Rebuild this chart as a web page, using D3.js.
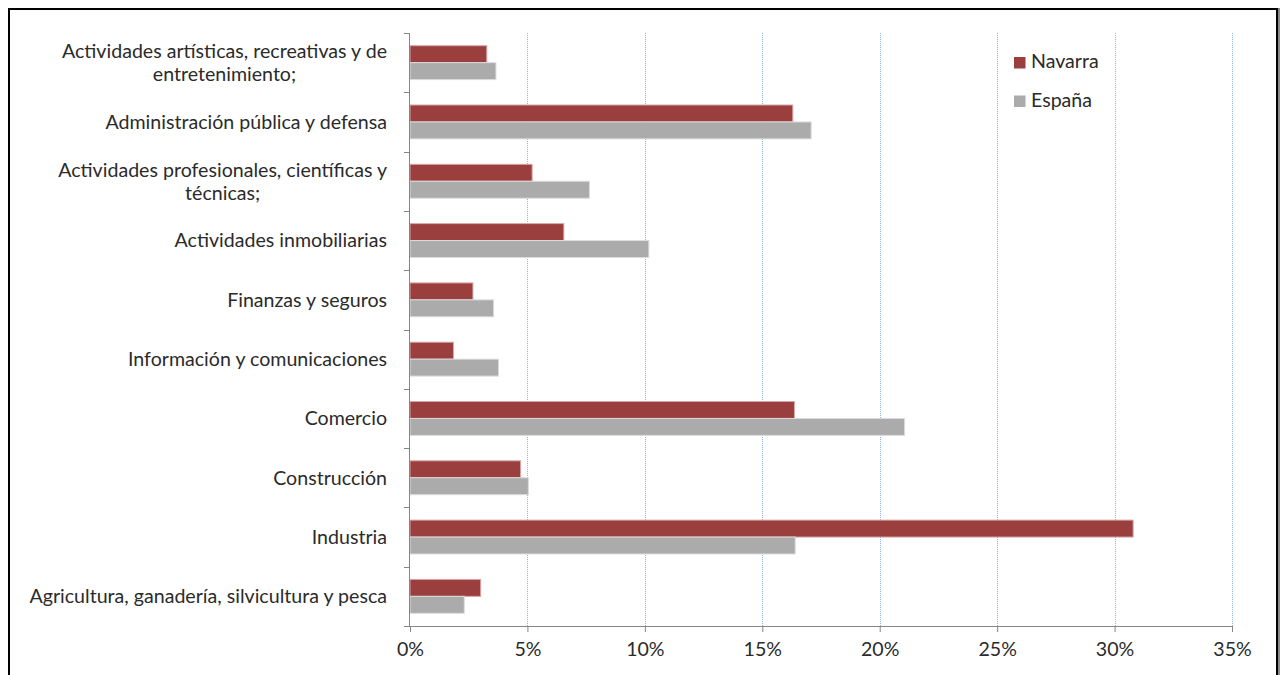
<!DOCTYPE html>
<html>
<head>
<meta charset="utf-8">
<script src="https://cdn.jsdelivr.net/npm/d3@7"></script>
<style>
    body { margin: 0; background: #fff; }
    text { font-family: Lato, 'Open Sans', sans-serif; fill: #2b2b2b; }
</style>
</head>
<body>
<svg id="chart" width="1283" height="675"></svg>
<script>
// Categories listed top to bottom, "\n" = where the label wraps
const categories = [
    'Actividades artísticas, recreativas y de\nentretenimiento;',
    'Administración pública y defensa',
    'Actividades profesionales, científicas y\ntécnicas;',
    'Actividades inmobiliarias',
    'Finanzas y seguros',
    'Información y comunicaciones',
    'Comercio',
    'Construcción',
    'Industria',
    'Agricultura, ganadería, silvicultura y pesca'
];
const navarra = [3.27, 16.3, 5.2, 6.55, 2.68, 1.85, 16.37, 4.71, 30.79, 3.01];
const espana  = [3.66, 17.08, 7.64, 10.17, 3.56, 3.77, 21.06, 5.04, 16.4, 2.31];
const seriesNames = ['Navarra', 'España'];
const xTicks = [0, 5, 10, 15, 20, 25, 30, 35];

class BarChart {

    /**
    * @param {D3 selection} _parent
    */
    constructor(_parent) {
        this.parent = _parent;
        this.width = +this.parent.attr('width');
        this.height = +this.parent.attr('height');
        this.margin = { left: 410, right: 1283 - 1232, top: 33, bottom: 675 - 626 };
        this.colours = ['#9b3e3e', '#ababab'];
        this.fontSize = 19.6;

        this.x = d3.scaleLinear().domain([0, 35]).range([this.margin.left, this.width - this.margin.right]);
        this.y = d3.scaleBand().domain(categories).range([this.margin.top, this.height - this.margin.bottom]);
        // gap width 150% -> two bars + 1.5 bar of gap per band
        this.inner = d3.scaleBand().domain(seriesNames).range([0, this.y.bandwidth()]).paddingOuter(0.75).paddingInner(0);

        this.populate();
    }

    populate() {
        const svg = this.parent;
        const x = this.x, y = this.y;
        const y0 = y.range()[0], y1 = y.range()[1];
        const fs = this.fontSize;

        svg.append('rect').attr('width', this.width).attr('height', this.height).attr('fill', '#fff');

        // dotted vertical gridlines
        svg.append('g').selectAll('line').data(xTicks.filter(d => d > 0)).join('line')
            .attr('x1', d => Math.round(x(d)) + 0.5).attr('x2', d => Math.round(x(d)) + 0.5)
            .attr('y1', y0).attr('y2', y1)
            .attr('stroke', '#8fb0e3').attr('stroke-dasharray', '1,1');

        // bars
        const rows = categories.map((c, i) => ({ cat: c, vals: [navarra[i], espana[i]] }));
        svg.append('g').selectAll('g').data(rows).join('g')
            .attr('transform', d => `translate(0,${y(d.cat)})`)
            .selectAll('rect').data(d => d.vals.map((v, j) => ({ v, s: seriesNames[j], j }))).join('rect')
            .attr('x', x(0))
            .attr('y', d => this.inner(d.s))
            .attr('width', d => x(d.v) - x(0))
            .attr('height', this.inner.bandwidth())
            .attr('fill', d => this.colours[d.j])
            .attr('stroke', d => d.j === 0 ? '#d8a6a6' : '#dcdcdc')
            .attr('stroke-width', 1);

        // x axis
        const xAxis = svg.append('g')
            .attr('transform', `translate(0,${y1})`)
            .call(d3.axisBottom(x).tickValues(xTicks).tickFormat(d => d + '%').tickSizeInner(6).tickSizeOuter(0));
        xAxis.select('.domain').attr('stroke', '#868686').attr('d', `M${x(0) - 6},0.5H${x(35)}`);
        xAxis.selectAll('.tick line').attr('stroke', '#868686');
        xAxis.selectAll('.tick text').attr('font-size', fs).attr('font-family', null).attr('dy', '1.05em');

        // y axis: line and ticks on band edges
        const edges = categories.map(c => y(c)).concat([y1]);
        svg.append('line').attr('x1', x(0) - 0.5).attr('x2', x(0) - 0.5).attr('y1', y0).attr('y2', y1)
            .attr('stroke', '#868686');
        svg.append('g').selectAll('line').data(edges).join('line')
            .attr('x1', x(0) - 6).attr('x2', x(0))
            .attr('y1', d => Math.round(d) + 0.5).attr('y2', d => Math.round(d) + 0.5)
            .attr('stroke', '#868686');

        // category labels, lines centred within the wrapped block
        const lineH = 23;
        svg.append('g').selectAll('g').data(categories).join('g')
            .each(function (c) {
                const g = d3.select(this);
                const lines = c.split('\n');
                const t = g.append('text').attr('font-size', fs).attr('text-anchor', 'middle');
                lines.forEach((l, i) => t.append('tspan').attr('x', 0)
                    .attr('y', y(c) + y.bandwidth() / 2 + (i - (lines.length - 1) / 2) * lineH)
                    .attr('dy', '0.35em').text(l));
                const w = t.node().getBBox().width;
                g.attr('transform', `translate(${387 - w / 2},0)`);
            });

        // legend
        const legend = svg.append('g').attr('transform', 'translate(1014,57)');
        legend.selectAll('rect').data(seriesNames).join('rect')
            .attr('x', 0).attr('y', (d, i) => i * 38.5)
            .attr('width', 11.5).attr('height', 11.5)
            .attr('fill', (d, i) => this.colours[i]);
        legend.selectAll('text').data(seriesNames).join('text')
            .attr('x', 17).attr('y', (d, i) => i * 38.5 + 11)
            .attr('font-size', fs).text(d => d);

        // chart frame
        svg.append('rect').attr('x', 9).attr('y', 9).attr('width', 1268).attr('height', 680)
            .attr('fill', 'none').attr('stroke', '#000').attr('stroke-width', 2);
        svg.append('line').attr('x1', 1279).attr('x2', 1279).attr('y1', 8).attr('y2', 675)
            .attr('stroke', '#8c8c8c').attr('stroke-width', 2);
    }
}

new BarChart(d3.select('#chart'));
</script>
</body>
</html>
